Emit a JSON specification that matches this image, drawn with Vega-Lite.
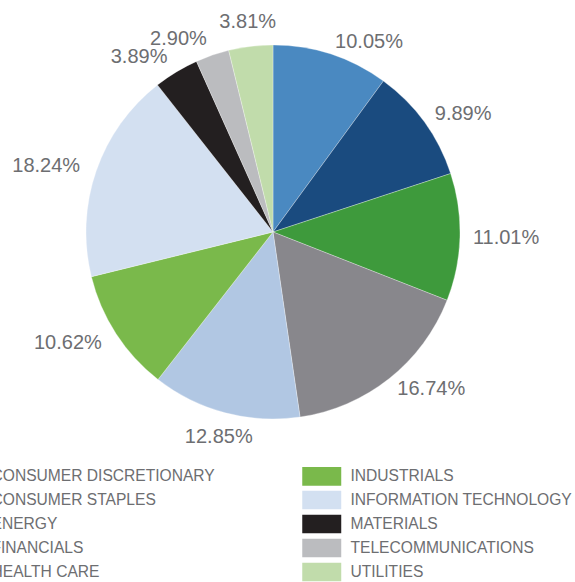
{
  "$schema": "https://vega.github.io/schema/vega-lite/v6.json",
  "width": 546,
  "height": 464,
  "autosize": {"type": "none"},
  "padding": {"left": 0, "top": 0, "right": 29, "bottom": 118},
  "background": "white",
  "data": {
    "values": [
      {"sector": "CONSUMER DISCRETIONARY", "share": 0.1005, "order": 1},
      {"sector": "CONSUMER STAPLES", "share": 0.0989, "order": 2},
      {"sector": "ENERGY", "share": 0.1101, "order": 3},
      {"sector": "FINANCIALS", "share": 0.1674, "order": 4},
      {"sector": "HEALTH CARE", "share": 0.1285, "order": 5},
      {"sector": "INDUSTRIALS", "share": 0.1062, "order": 6},
      {"sector": "INFORMATION TECHNOLOGY", "share": 0.1824, "order": 7},
      {"sector": "MATERIALS", "share": 0.0389, "order": 8},
      {"sector": "TELECOMMUNICATIONS", "share": 0.029, "order": 9},
      {"sector": "UTILITIES", "share": 0.0381, "order": 10}
    ]
  },
  "encoding": {
    "theta": {"field": "share", "type": "quantitative", "stack": true},
    "order": {"field": "order", "type": "quantitative"}
  },
  "layer": [
    {
      "mark": {"type": "arc", "outerRadius": 187, "stroke": "white", "strokeWidth": 0.3},
      "encoding": {
        "color": {
          "field": "sector",
          "type": "nominal",
          "scale": {
            "domain": ["CONSUMER DISCRETIONARY", "CONSUMER STAPLES", "ENERGY", "FINANCIALS", "HEALTH CARE", "INDUSTRIALS", "INFORMATION TECHNOLOGY", "MATERIALS", "TELECOMMUNICATIONS", "UTILITIES"],
            "range": ["#4a89c1", "#1a4b7f", "#3e9a3c", "#88878c", "#b1c7e3", "#7ab94b", "#d3e0f1", "#231f20", "#bbbcbf", "#c1dcab"]
          },
          "legend": {
            "title": null,
            "orient": "none",
            "legendX": -57,
            "legendY": 466,
            "columns": 2,
            "columnPadding": 87,
            "rowPadding": 4,
            "symbolType": "M-1,-0.95H3V0.95H-1Z",
            "symbolSize": 380,
            "symbolStrokeWidth": 0,
            "symbolOpacity": 1,
            "labelOffset": 28.5,
            "labelFont": "Liberation Sans",
            "labelFontSize": 15.6,
            "labelColor": "#6d6e71",
            "labelLimit": 400,
            "padding": 0
          }
        }
      }
    },
    {
      "mark": {"type": "text", "radius": 200, "font": "Liberation Sans", "fontSize": 20, "fill": "#6d6e71", "align": "left", "baseline": "middle"},
      "encoding": {
        "text": {"condition": {"test": "datum.order >= 1 && datum.order <= 4", "field": "share", "type": "quantitative", "format": ".2%"}, "value": ""}
      }
    },
    {
      "mark": {"type": "text", "radius": 204, "font": "Liberation Sans", "fontSize": 20, "fill": "#6d6e71", "align": "right", "baseline": "middle"},
      "encoding": {
        "text": {"condition": {"test": "datum.order >= 6 && datum.order <= 9", "field": "share", "type": "quantitative", "format": ".2%"}, "value": ""}
      }
    },
    {
      "mark": {"type": "text", "radius": 212, "font": "Liberation Sans", "fontSize": 20, "fill": "#6d6e71", "align": "center", "baseline": "middle"},
      "encoding": {
        "text": {"condition": {"test": "datum.order == 5 || datum.order == 10", "field": "share", "type": "quantitative", "format": ".2%"}, "value": ""}
      }
    }
  ],
  "config": {"view": {"stroke": null}}
}
